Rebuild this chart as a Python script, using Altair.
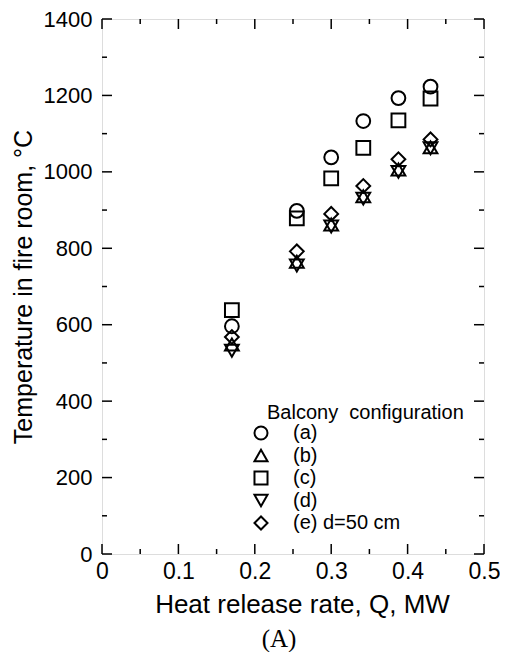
import altair as alt
import pandas as pd

# ---- data ----
heat_release = [0.17, 0.255, 0.30, 0.342, 0.388, 0.43]
temp_a = [596, 898, 1038, 1133, 1193, 1223]
temp_b = [548, 765, 862, 936, 1006, 1064]
temp_c = [638, 878, 983, 1063, 1135, 1192]
temp_d = [532, 755, 857, 930, 1000, 1062]
temp_e = [568, 792, 890, 963, 1033, 1085]

series_labels = ["(a)", "(b)", "(c)", "(d)", "(e) d=50 cm"]
series_shapes = ["circle", "triangle-up", "square", "triangle-down", "diamond"]
legend_title = "Balcony\u00a0\u00a0configuration"

x_major = [0, 0.1, 0.2, 0.3, 0.4, 0.5]
x_minor = [0.05, 0.15, 0.25, 0.35, 0.45]
y_major = [0, 200, 400, 600, 800, 1000, 1200, 1400]
y_minor = [100, 300, 500, 700, 900, 1100, 1300]

W, H = 382, 535
FONT = "Liberation Sans"

rows = []
for lab, temps in zip(series_labels, [temp_a, temp_b, temp_c, temp_d, temp_e]):
    for q, t in zip(heat_release, temps):
        rows.append({"Q": q, "T": t, "config": lab})
df = pd.DataFrame(rows)

xscale = alt.Scale(domain=[0, 0.5], nice=False, zero=False)
yscale = alt.Scale(domain=[0, 1400], nice=False, zero=False)

xaxis = alt.Axis(values=x_major, format=".1~f", title="Heat release rate, Q, MW",
                 ticks=False, domain=False, grid=False,
                 labelFont=FONT, labelFontSize=23, labelColor="black", labelPadding=6,
                 titleFont=FONT, titleFontSize=26, titleFontWeight="normal",
                 titleColor="black", titlePadding=8, titleX=200,
                 labelFlush=False)
yaxis = alt.Axis(values=y_major, format="d", title="Temperature in fire room, °C",
                 ticks=False, domain=False, grid=False,
                 labelFont=FONT, labelFontSize=22, labelColor="black", labelPadding=10,
                 titleFont=FONT, titleFontSize=25, titleFontWeight="normal",
                 titleColor="black", titlePadding=7, labelFlush=False)

points = alt.Chart(df).mark_point(
    filled=False, color="black", strokeWidth=2, size=190, opacity=1
).encode(
    x=alt.X("Q:Q", scale=xscale, axis=xaxis, title="Heat release rate, Q, MW"),
    y=alt.Y("T:Q", scale=yscale, axis=yaxis, title="Temperature in fire room, °C"),
    shape=alt.Shape("config:N",
                    scale=alt.Scale(domain=series_labels, range=series_shapes),
                    legend=alt.Legend(
                        title=None,
                        orient="none", legendX=149, legendY=404, padding=0,
                        labelFont=FONT, labelFontSize=20, labelColor="black",
                        labelOffset=22, rowPadding=1.5,
                        symbolSize=170, symbolStrokeWidth=2,
                        symbolStrokeColor="black", symbolFillColor="transparent")),
)

legend_head = alt.Chart(pd.DataFrame({"t": [legend_title]})).mark_text(
    font=FONT, fontSize=20, color="black", align="left", baseline="alphabetic"
).encode(text="t:N", x=alt.value(165), y=alt.value(400))

def xticks(vals, length):
    d = pd.DataFrame({"Q": vals})
    bottom = alt.Chart(d).mark_rule(color="black", strokeWidth=1.5).encode(
        x=alt.X("Q:Q", scale=xscale, axis=xaxis, title="Heat release rate, Q, MW"),
        y=alt.value(H), y2=alt.value(H - length))
    top = alt.Chart(d).mark_rule(color="black", strokeWidth=1.5).encode(
        x=alt.X("Q:Q", scale=xscale, axis=xaxis, title="Heat release rate, Q, MW"),
        y=alt.value(0), y2=alt.value(length))
    return [bottom, top]

def yticks(vals, length):
    d = pd.DataFrame({"T": vals})
    left = alt.Chart(d).mark_rule(color="black", strokeWidth=1.5).encode(
        y=alt.Y("T:Q", scale=yscale, axis=yaxis, title="Temperature in fire room, °C"),
        x=alt.value(0), x2=alt.value(length))
    right = alt.Chart(d).mark_rule(color="black", strokeWidth=1.5).encode(
        y=alt.Y("T:Q", scale=yscale, axis=yaxis, title="Temperature in fire room, °C"),
        x=alt.value(W), x2=alt.value(W - length))
    return [left, right]

layers = ([points, legend_head] + xticks(x_major, 10) + xticks(x_minor, 5)
          + yticks(y_major, 10) + yticks(y_minor, 5))

chart = alt.layer(*layers).properties(
    width=W, height=H,
    title=alt.TitleParams(text="(A)", orient="bottom", anchor="middle", dx=-14, offset=10,
                          font="Liberation Serif", fontSize=25, fontWeight="normal", color="black"),
    autosize=alt.AutoSizeParams(type="none"),
    padding={"left": 94, "top": 11, "right": 16, "bottom": 98},
).configure_view(stroke="black", strokeWidth=2).configure(background="white")

chart.save("out.html", embed_options={"renderer": "svg", "actions": False})
